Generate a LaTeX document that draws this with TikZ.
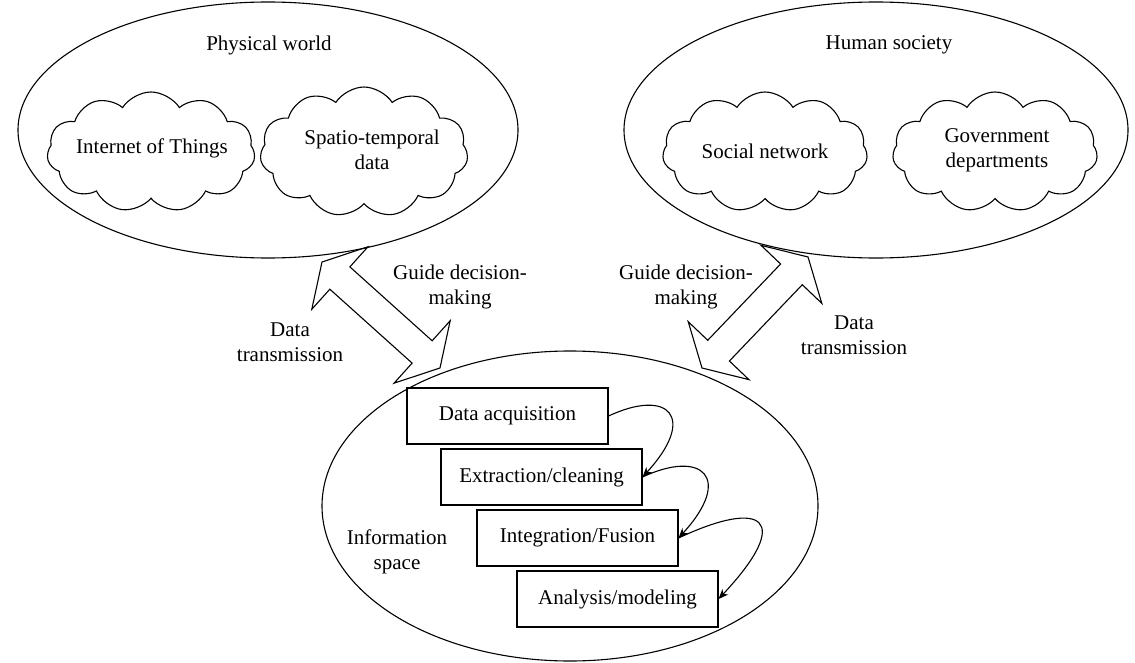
\documentclass[tikz,border=0pt]{standalone}
\usepackage{fontspec}
\setmainfont{Liberation Serif}
\usetikzlibrary{shapes.geometric,shapes.symbols,arrows.meta}

\tikzset{
  lbl/.style={font=\fontsize{21}{25}\selectfont, align=center, inner sep=0pt},
  realm/.style={draw, ellipse, inner sep=0pt},
  puff/.style={draw, cloud, cloud puffs=11, cloud puff arc=115, inner sep=0pt},
  stagebox/.style={draw, minimum width=201, minimum height=56, inner sep=0pt,
                   font=\fontsize{21}{25}\selectfont},
  flow/.style={-{Stealth[length=10pt,width=8pt]}},
  blockarrow/.style={draw, line join=miter},
}

% double-headed block arrow along the local x axis, tip to tip length #1
\newcommand\twinarrow[1]{%
  \draw[blockarrow] (0,0) -- (24,42) -- (24,15) -- (#1-24,15) -- (#1-24,42)
    -- (#1,0) -- (#1-24,-42) -- (#1-24,-15) -- (24,-15) -- (24,-42) -- cycle;}

\begin{document}
\begin{tikzpicture}[x=1pt, y=-1pt, line width=1.1pt]
\useasboundingbox (0,0) rectangle (1135,663);

% the three realms
\node[realm, minimum width=500, minimum height=256] (phys) at (268,130) {};
\node[realm, minimum width=504, minimum height=256] (human) at (876,130) {};
\node[realm, minimum width=496, minimum height=310] (info) at (570,506) {};

\node[lbl] (physT) at (269,45) {Physical world};
\node[lbl] (humanT) at (889,45) {Human society};
\node[lbl] (infoT) at (397,552) {Information\\space};

% data sources
\node[puff, minimum width=208, minimum height=120] (iot) at (151,152) {};
\node[puff, minimum width=208, minimum height=130] (st) at (364,152) {};
\node[puff, minimum width=205, minimum height=120] (soc) at (765,152) {};
\node[puff, minimum width=205, minimum height=120] (gov) at (995,152) {};

\node[lbl] (iotT) at (152,148) {Internet of Things};
\node[lbl] (stT) at (372,150) {Spatio-temporal\\data};
\node[lbl] (socT) at (765,151) {Social network};
\node[lbl] (govT) at (997,150) {Government\\departments};

% exchange between the realms and the information space
\begin{scope}[shift={(322,262)}, rotate=-41.93]
  \twinarrow{158.6}
\end{scope}
\begin{scope}[shift={(702,368)}, rotate=46.32]
  \twinarrow{153.5}
\end{scope}

\node[lbl] (gdL) at (460,287) {Guide decision-\\making};
\node[lbl] (dtL) at (290,342) {Data\\transmission};
\node[lbl] (gdR) at (686,287) {Guide decision-\\making};
\node[lbl] (dtR) at (854,335) {Data\\transmission};

% processing stages
\node[stagebox] (b1) at (507.5,416) {Data acquisition};
\node[stagebox] (b2) at (541.5,477) {Extraction/cleaning};
\node[stagebox] (b3) at (577.5,538) {Integration/Fusion};
\node[stagebox] (b4) at (617.5,599) {Analysis/modeling};

\draw[flow] (b1.east) .. controls +(60,-28) and +(55,-60) .. (b2.east);
\draw[flow] (b2.east) .. controls +(60,-28) and +(55,-60) .. (b3.east);
\draw[flow] (b3.east) .. controls +(85,-40) and +(75,-80) .. (b4.east);
\end{tikzpicture}
\end{document}
